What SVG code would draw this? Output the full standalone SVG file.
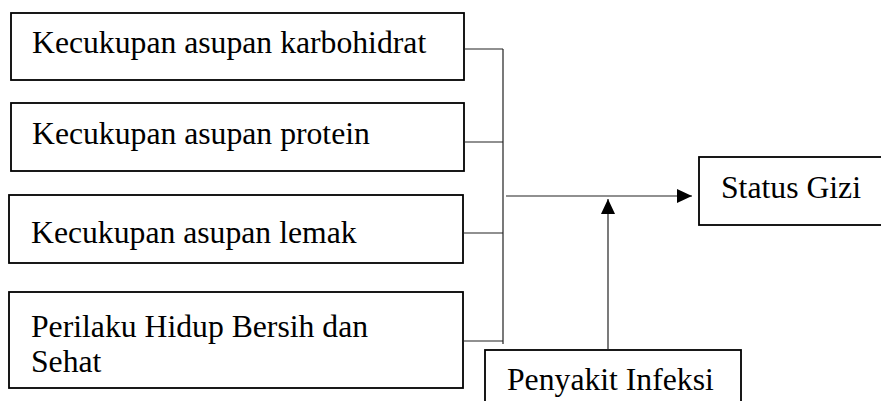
<svg xmlns="http://www.w3.org/2000/svg" width="881" height="401" viewBox="0 0 881 401">
<defs>
<style>
.box{fill:#fff;stroke:#000;stroke-width:1.8}
.t{font-family:'Liberation Serif','DejaVu Serif',serif;font-size:31.7px;fill:#000}
.c{stroke:#222;stroke-width:1.2;fill:none}
</style>
<marker id="ah" markerWidth="16" markerHeight="14" refX="15" refY="7" orient="auto" markerUnits="userSpaceOnUse">
<path d="M0,0 L15,7 L0,14 Z" fill="#000"/>
</marker>
</defs>
<rect width="881" height="401" fill="#fff"/>
<g id="n1"><rect class="box" x="11" y="13" width="453" height="67"/><text class="t" x="32" y="53">Kecukupan asupan karbohidrat</text></g>
<g id="n2"><rect class="box" x="11" y="103" width="453" height="68"/><text class="t" x="32" y="144">Kecukupan asupan protein</text></g>
<g id="n3"><rect class="box" x="9" y="195" width="454" height="68"/><text class="t" x="31" y="243">Kecukupan asupan lemak</text></g>
<g id="n4"><rect class="box" x="9" y="292" width="454" height="96"/><text class="t" x="31" y="337">Perilaku Hidup Bersih dan</text><text class="t" x="31" y="372">Sehat</text></g>
<g id="n5"><rect class="box" x="699" y="157" width="200" height="68"/><text class="t" x="721" y="198">Status Gizi</text></g>
<g id="n6"><rect class="box" x="485" y="350" width="256" height="80"/><text class="t" x="507" y="390">Penyakit Infeksi</text></g>
<g id="connectors">
<path class="c" d="M464,49 H503 M464,142 H503 M463,233 H503 M463,341 H503 M503,49 V344"/>
<path class="c" d="M506,196 H692" marker-end="url(#ah)"/>
<path class="c" d="M608,350 V199" marker-end="url(#ah)"/>
</g>
</svg>
